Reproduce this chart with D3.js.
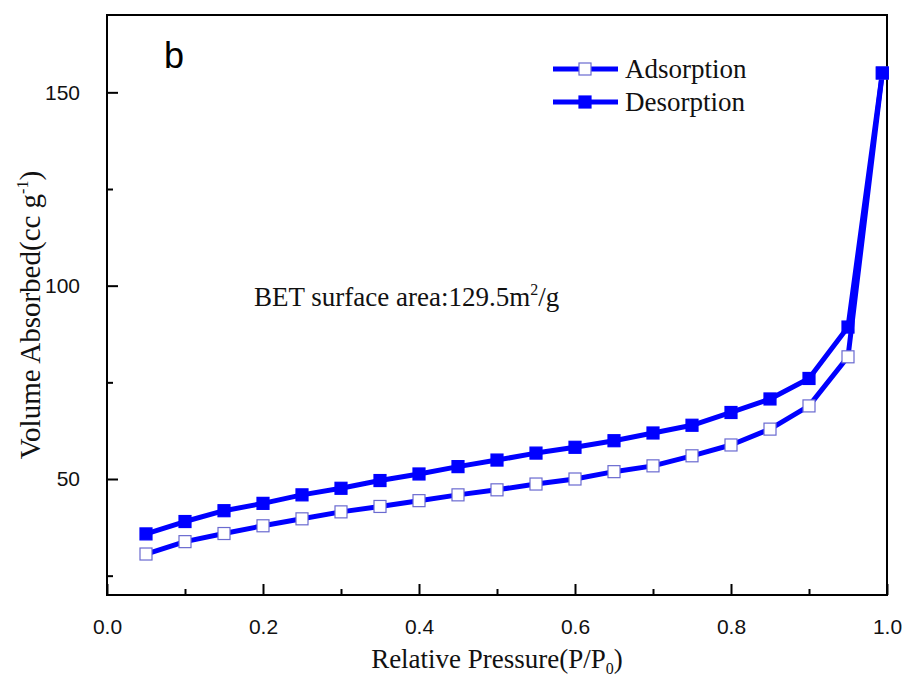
<!DOCTYPE html>
<html>
<head>
<meta charset="utf-8">
<script src="https://cdn.jsdelivr.net/npm/d3@7"></script>
<style>
  body { margin: 0; background: #fff; }
  svg { display: block; }
</style>
</head>
<body>
<div id="chart"></div>
<script>
// relative pressure P/P0
const pressure = [0.05, 0.10, 0.15, 0.20, 0.25, 0.30, 0.35, 0.40, 0.45, 0.50,
                  0.55, 0.60, 0.65, 0.70, 0.75, 0.80, 0.85, 0.90, 0.95, 0.994];
// volume absorbed (cc/g)
const adsorption = [30.6, 33.8, 35.9, 37.9, 39.7, 41.5, 42.9, 44.4, 45.9, 47.2,
                    48.7, 50.0, 51.9, 53.4, 56.0, 58.8, 62.9, 68.9, 81.6, 155];
const desorption = [35.8, 39.0, 41.8, 43.7, 45.9, 47.6, 49.6, 51.3, 53.2, 54.9,
                    56.7, 58.2, 59.9, 61.9, 63.9, 67.2, 70.7, 76.0, 89.3, 155];
const seriesNames = ['Adsorption', 'Desorption'];
const xTicks = [0, 0.2, 0.4, 0.6, 0.8, 1.0];
const xMinor = [0.1, 0.3, 0.5, 0.7, 0.9];
const yTicks = [50, 100, 150];
const yMinor = [25, 75, 125];

const width = 906, height = 682;
const margin = {top: 15, right: 19, bottom: 87, left: 107};
const serif = '"Liberation Serif", "Times New Roman", serif';
const sans = '"Liberation Sans", Arial, sans-serif';
const blue = '#0000ff';

const svg = d3.select('#chart')
    .append('svg')
    .attr('width', width)
    .attr('height', height);

const x = d3.scaleLinear().domain([0, 1]).range([margin.left, width - margin.right]);
const y = d3.scaleLinear().domain([20, 170]).range([height - margin.bottom, margin.top]);

// minor ticks first (no labels)
svg.append('g')
    .attr('transform', `translate(0, ${y.range()[0]})`)
    .call(d3.axisBottom(x).tickValues(xMinor).tickSize(-6).tickFormat(''))
    .call(g => g.select('.domain').remove())
    .selectAll('line').attr('stroke', '#000').attr('stroke-width', 2);

svg.append('g')
    .attr('transform', `translate(${x.range()[0]}, 0)`)
    .call(d3.axisLeft(y).tickValues(yMinor).tickSize(-6).tickFormat(''))
    .call(g => g.select('.domain').remove())
    .selectAll('line').attr('stroke', '#000').attr('stroke-width', 2);

// major ticks
const xAxis = svg.append('g')
    .attr('transform', `translate(0, ${y.range()[0]})`)
    .call(d3.axisBottom(x).tickValues(xTicks).tickSize(-11).tickPadding(24).tickFormat(d3.format('.1f')));
xAxis.select('.domain').remove();
xAxis.selectAll('line').attr('stroke', '#000').attr('stroke-width', 2);
xAxis.selectAll('text').attr('font-family', sans).attr('font-size', 21).attr('fill', '#111');

const yAxis = svg.append('g')
    .attr('transform', `translate(${x.range()[0]}, 0)`)
    .call(d3.axisLeft(y).tickValues(yTicks).tickSize(-11).tickPadding(27));
yAxis.select('.domain').remove();
yAxis.selectAll('line').attr('stroke', '#000').attr('stroke-width', 2);
yAxis.selectAll('text').attr('font-family', sans).attr('font-size', 21).attr('fill', '#111');

// frame
svg.append('rect')
    .attr('x', x.range()[0])
    .attr('y', y.range()[1])
    .attr('width', x.range()[1] - x.range()[0])
    .attr('height', y.range()[0] - y.range()[1])
    .attr('fill', 'none')
    .attr('stroke', '#000')
    .attr('stroke-width', 2);

const line = d3.line()
    .x(d => x(d[0]))
    .y(d => y(d[1]));

const series = [
    {name: seriesNames[0], values: d3.zip(pressure, adsorption), fill: '#fff', stroke: '#6a6ad0'},
    {name: seriesNames[1], values: d3.zip(pressure, desorption), fill: blue, stroke: blue}
];

const mark = 12;

series.forEach(s => {
    svg.append('path')
        .datum(s.values)
        .attr('d', line)
        .attr('fill', 'none')
        .attr('stroke', blue)
        .attr('stroke-width', 5)
        .attr('stroke-linejoin', 'round');
});

series.forEach(s => {
    svg.append('g')
        .selectAll('rect')
        .data(s.values)
        .enter()
        .append('rect')
        .attr('x', d => x(d[0]) - mark / 2)
        .attr('y', d => y(d[1]) - mark / 2)
        .attr('width', mark)
        .attr('height', mark)
        .attr('fill', s.fill)
        .attr('stroke', s.stroke)
        .attr('stroke-width', 1.2);
});

// legend
const legend = svg.append('g').attr('transform', 'translate(553, 69)');
series.forEach((s, i) => {
    const row = legend.append('g').attr('transform', `translate(0, ${i * 33})`);
    row.append('line')
        .attr('x1', 0).attr('x2', 65)
        .attr('stroke', blue).attr('stroke-width', 5);
    row.append('rect')
        .attr('x', 32 - mark / 2).attr('y', -mark / 2)
        .attr('width', mark).attr('height', mark)
        .attr('fill', s.fill).attr('stroke', s.stroke).attr('stroke-width', 1.2);
    row.append('text')
        .attr('x', 72).attr('y', 9)
        .attr('font-family', serif).attr('font-size', 27)
        .attr('fill', '#111')
        .text(s.name);
});

// panel letter
svg.append('text')
    .attr('x', 164).attr('y', 68)
    .attr('font-family', sans).attr('font-size', 36)
    .attr('fill', '#000')
    .text('b');

// BET annotation
const bet = svg.append('text')
    .attr('x', 254).attr('y', 306)
    .attr('font-family', serif).attr('font-size', 27)
    .attr('fill', '#111');
bet.append('tspan').text('BET surface area:129.5m');
bet.append('tspan').attr('font-size', 16).attr('dy', -11).text('2');
bet.append('tspan').attr('dy', 11).text('/g');

// axis titles
const xt = svg.append('text')
    .attr('x', (x.range()[0] + x.range()[1]) / 2)
    .attr('y', 668)
    .attr('text-anchor', 'middle')
    .attr('font-family', serif).attr('font-size', 27)
    .attr('fill', '#111');
xt.append('tspan').text('Relative Pressure(P/P');
xt.append('tspan').attr('font-size', 16).attr('dy', 6).text('0');
xt.append('tspan').attr('dy', -6).text(')');

const yt = svg.append('text')
    .attr('transform', `translate(40, ${(y.range()[0] + y.range()[1]) / 2 + 10}) rotate(-90)`)
    .attr('text-anchor', 'middle')
    .attr('font-family', serif).attr('font-size', 29)
    .attr('fill', '#111');
yt.append('tspan').text('Volume Absorbed(cc g');
yt.append('tspan').attr('font-size', 16).attr('dy', -12).text('-1');
yt.append('tspan').attr('dy', 12).text(')');
</script>
</body>
</html>
